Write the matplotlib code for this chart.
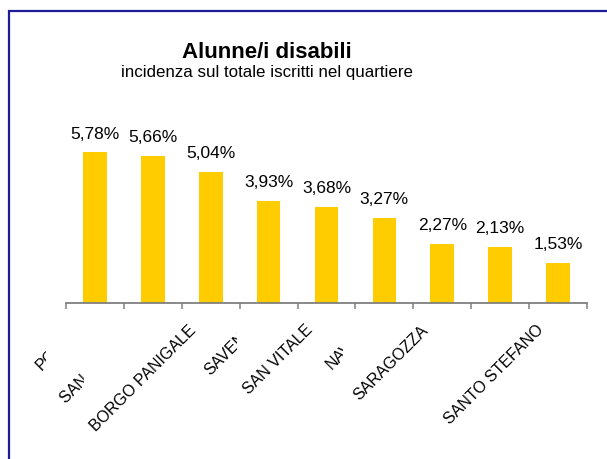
import numpy as np
import matplotlib.pyplot as plt
from matplotlib.patches import Rectangle
from matplotlib.transforms import Bbox

# incidenza alunne/i disabili sul totale iscritti, per quartiere
quartieri = ['PORTO', 'SAN DONATO', 'BORGO PANIGALE', 'SAVENA', 'SAN VITALE',
             'NAVILE', 'SARAGOZZA', 'RENO', 'SANTO STEFANO']
incidenza = [5.78, 5.66, 5.04, 3.93, 3.68, 3.27, 2.27, 2.13, 1.53]
etichette = ['5,78%', '5,66%', '5,04%', '3,93%', '3,68%', '3,27%', '2,27%', '2,13%', '1,53%']

# the original category labels are partly cut off: right edge (px) of what shows
label_clip = [46, 84, None, 237, None, 343, None, 0, None]

plt.rcParams['font.family'] = ['Liberation Sans', 'DejaVu Sans']

W, H = 607, 459
fig = plt.figure(figsize=(W / 100, H / 100), dpi=100)

# outer frame
fig.patches.append(Rectangle((8.5 / W, -0.1), 1.2, 1.1 - 11.5 / H, transform=fig.transFigure,
                             fill=False, edgecolor='#1c1c99', linewidth=1.6))

ax = fig.add_axes([66 / W, 1 - 302.7 / H, 521 / W, 182 / H])
x = np.arange(len(incidenza))
ax.bar(x, incidenza, width=0.41, color='#FFCC00')
ax.set_xlim(-0.5, len(incidenza) - 0.5)
ax.set_ylim(0, 7)

for s in ['top', 'right', 'left']:
    ax.spines[s].set_visible(False)
ax.spines['bottom'].set_color('#808080')
ax.spines['bottom'].set_linewidth(1.3)
ax.set_yticks([])
ax.set_xticks(np.arange(-0.5, len(incidenza), 1.0))
ax.set_xticklabels([])
ax.tick_params(axis='x', direction='out', length=4, width=1.1, color='#808080')

for i, (v, t) in enumerate(zip(incidenza, etichette)):
    ax.annotate(t, xy=(i, v), xytext=(0, 10), textcoords='offset points',
                ha='center', va='baseline', fontsize=12.5)

for i, name in enumerate(quartieri):
    txt = ax.annotate(name, xy=(i, 0), xytext=(-12, -18), textcoords='offset points',
                      rotation=45, ha='right', va='center', rotation_mode='anchor',
                      fontsize=11.5, annotation_clip=False)
    if label_clip[i] is not None:
        txt.set_clip_on(True)
        txt.set_clip_box(Bbox([[-100, -100], [label_clip[i], H + 100]]))

fig.text(267 / W, 1 - 58 / H, 'Alunne/i disabili', ha='center', va='baseline',
         fontsize=16, fontweight='bold')
fig.text(267 / W, 1 - 77 / H, 'incidenza sul totale iscritti nel quartiere',
         ha='center', va='baseline', fontsize=12.2)

fig.savefig('out.png', dpi=100)
